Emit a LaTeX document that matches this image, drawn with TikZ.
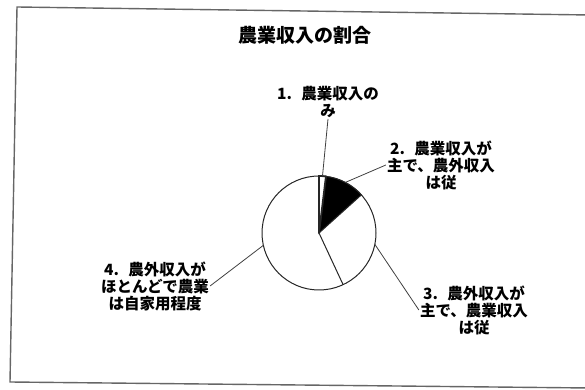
\documentclass[tikz,border=0pt]{standalone}
\usepackage{fontspec}
\usetikzlibrary{calc}
\newfontfamily\jpfont{Noto Sans CJK JP}
\tikzset{
  lbl/.style={align=center, inner sep=1pt, font=\jpfont\bfseries\fontsize{15.5}{17}\selectfont},
  pieline/.style={draw=black!85, line width=1pt},
  leader/.style={draw=black!75, line width=0.8pt}
}

\begin{document}
\begin{tikzpicture}[x=1pt, y=1pt]
  \useasboundingbox (0,0) rectangle (585,390);
  \draw[black!60, line width=1.4pt] (590,375) -- (17,383) -- (10,8) -- (590,2);

  \node[font=\jpfont\bfseries\fontsize{19}{20}\selectfont] (title) at (305,355) {農業収入の割合};

  \coordinate (C) at (319,157);
  \draw[pieline, fill=white] (C) circle[radius=57];
  \draw[pieline, fill=black] (C) -- +(83:57) arc[start angle=83, end angle=42, radius=57] -- cycle;
  \draw[pieline, line width=1.8pt, fill=white] (C) -- +(90:57) arc[start angle=90, end angle=83, radius=57] -- cycle;
  \draw[pieline] (C) -- +(-65:57);
  \draw[pieline] (C) -- +(90:57);

  \coordinate (p1) at ($(C)+(86.5:57)$);
  \coordinate (p2) at ($(C)+(62.5:57)$);
  \coordinate (p3) at ($(C)+(-11.5:57)$);
  \coordinate (p4) at ($(C)+(192.5:57)$);

  \node[lbl] (lab1) at (328,288) {1.\hspace{0.6em}農業収入の\\み};
  \node[lbl] (lab2) at (441,225) {2.\hspace{0.6em}農業収入が\\主で、農外収入\\は従};
  \node[lbl] (lab3) at (474,80) {3.\hspace{0.6em}農外収入が\\主で、農業収入\\は従};
  \node[lbl] (lab4) at (155,104) {4.\hspace{0.6em}農外収入が\\ほとんどで農業\\は自家用程度};

  \draw[leader] (p1) -- (lab1.south);
  \draw[leader] (p2) -- (lab2.west);
  \draw[leader] (p3) -- (lab3.west);
  \draw[leader] (p4) -- (lab4.east);
\end{tikzpicture}
\end{document}
